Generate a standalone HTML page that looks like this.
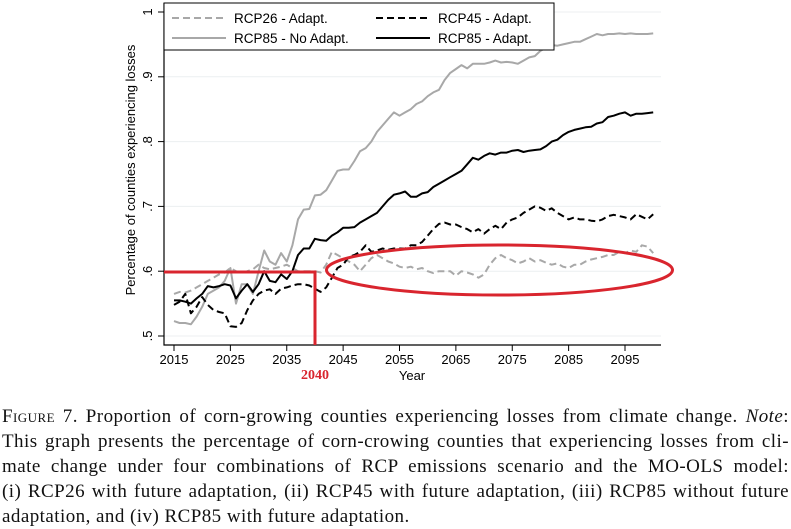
<!DOCTYPE html>
<html><head><meta charset="utf-8"><style>
body{margin:0;background:#fff;width:791px;height:529px;overflow:hidden;position:relative}
#cap{position:absolute;left:2px;top:404px;width:787px;font-family:"Liberation Serif",serif;font-size:19px;letter-spacing:0.45px;line-height:25px;color:#111}
#cap div{text-align:justify;text-align-last:justify;white-space:nowrap}
#cap div.last{text-align-last:left}
.sc{font-variant:small-caps}
</style></head><body>
<svg id="chart" width="791" height="400" style="position:absolute;left:0;top:0" font-family="Liberation Sans, sans-serif"></svg>
<div id="cap">
<div><span class="sc">Figure 7.</span> Proportion of corn-growing counties experiencing losses from climate change. <i>Note</i>:</div>
<div>This graph presents the percentage of corn-crowing counties that experiencing losses from cli-</div>
<div>mate change under four combinations of RCP emissions scenario and the MO-OLS model:</div>
<div>(i) RCP26 with future adaptation, (ii) RCP45 with future adaptation, (iii) RCP85 without future</div>
<div class="last">adaptation, and (iv) RCP85 with future adaptation.</div>
</div>
<script>
const startYear=2015;
const rcp26=[.565,.568,.567,.57,.575,.58,.585,.59,.595,.598,.605,.6,.598,.6,.603,.61,.605,.603,.605,.607,.61,.605,.6,.6,.6,.6,.598,.61,.63,.625,.62,.615,.61,.6,.61,.62,.625,.62,.615,.612,.607,.605,.607,.603,.605,.6,.597,.6,.6,.6,.593,.6,.598,.595,.59,.595,.61,.62,.625,.62,.617,.612,.615,.62,.615,.617,.613,.61,.612,.607,.605,.61,.61,.615,.618,.62,.622,.625,.625,.63,.628,.632,.63,.64,.638,.628];
const rcp45=[.548,.553,.565,.535,.545,.56,.548,.54,.537,.535,.515,.514,.52,.54,.555,.565,.57,.572,.565,.573,.575,.578,.58,.58,.578,.573,.568,.575,.59,.605,.61,.622,.625,.63,.64,.63,.632,.635,.633,.635,.635,.635,.64,.64,.645,.655,.665,.673,.675,.672,.672,.668,.665,.66,.665,.658,.665,.67,.665,.675,.68,.683,.69,.695,.7,.698,.693,.697,.69,.685,.68,.683,.68,.68,.678,.677,.68,.685,.687,.685,.683,.68,.688,.684,.68,.688];
const rcp85noAdapt=[.523,.52,.52,.518,.53,.545,.565,.57,.575,.585,.605,.55,.58,.58,.565,.6,.632,.615,.61,.628,.615,.64,.68,.695,.696,.717,.718,.725,.74,.755,.757,.757,.77,.785,.79,.8,.815,.825,.835,.845,.84,.845,.85,.858,.862,.87,.876,.88,.895,.906,.912,.918,.913,.92,.92,.92,.922,.925,.922,.923,.922,.92,.925,.93,.932,.94,.945,.949,.948,.95,.952,.954,.954,.958,.962,.966,.964,.966,.966,.967,.966,.967,.966,.966,.966,.967];
const rcp85Adapt=[.555,.555,.553,.55,.558,.565,.577,.575,.577,.58,.578,.558,.57,.58,.568,.58,.6,.585,.583,.595,.588,.6,.625,.635,.635,.65,.648,.647,.655,.66,.667,.667,.668,.675,.68,.685,.69,.7,.71,.718,.72,.723,.715,.715,.72,.722,.73,.735,.74,.745,.75,.755,.765,.775,.772,.778,.782,.78,.783,.783,.786,.787,.784,.786,.787,.788,.793,.8,.803,.81,.815,.818,.82,.822,.823,.828,.83,.838,.84,.843,.845,.84,.843,.843,.844,.845];
const xTicks=[2015,2025,2035,2045,2055,2065,2075,2085,2095];
const yTicks=[.5,.6,.7,.8,.9,1];
const yTickLabels=[".5",".6",".7",".8",".9","1"];
const NS="http://www.w3.org/2000/svg";
const svg=document.getElementById('chart');
const X=y=>174+(y-2015)*5.6375;
const Y=v=>336-(v-.5)*648;
function mk(t,a,p){const e=document.createElementNS(NS,t);for(const k in a)e.setAttribute(k,a[k]);(p||svg).appendChild(e);return e;}
yTicks.forEach((v,i)=>{
 const g=mk('line',{x1:164,x2:661,y1:Y(v),y2:Y(v),stroke:'#eceff1','stroke-width':1});
 
 
 const t=mk('line',{x1:158,x2:164,y1:Y(v),y2:Y(v),stroke:'#000'});
 
 
 const l=mk('text',{x:0,y:0,'font-size':13,'text-anchor':'middle',transform:`translate(152,${Y(v)}) rotate(-90)`});
 l.textContent=yTickLabels[i];
 
 
});
xTicks.forEach(v=>{
 const t=mk('line',{x1:X(v),x2:X(v),y1:345,y2:351,stroke:'#000'});
 
 
 const l=mk('text',{x:X(v),y:364,'font-size':13,'text-anchor':'middle'});
 l.textContent=v;
 
 
});
const ax=mk('path',{d:'M164,3V345H661',fill:'none',stroke:'#000','stroke-width':1.2});


const yt=mk('text',{x:0,y:0,'font-size':13,'text-anchor':'middle',transform:'translate(135,170) rotate(-90)'});
yt.textContent='Percentage of counties experiencing losses';


const xt=mk('text',{x:412,y:380,'font-size':13,'text-anchor':'middle'});
xt.textContent='Year';


function line(arr,stroke,dash,name){
 const d=arr.map((v,i)=>(i?'L':'M')+X(startYear+i).toFixed(1)+','+Y(v).toFixed(1)).join('');
 const p=mk('path',{d,fill:'none',stroke,'stroke-width':2,'stroke-dasharray':dash||'none','stroke-linejoin':'round'});
 
 
}
line(rcp26,'#a8a8a8','7,4','series-rcp26-adapt');
line(rcp85noAdapt,'#a8a8a8','','series-rcp85-no-adapt');
line(rcp45,'#000','7,4','series-rcp45-adapt');
line(rcp85Adapt,'#000','','series-rcp85-adapt');
const lg=mk('g',{});


mk('rect',{x:164,y:3,width:390,height:47,fill:'#fff',stroke:'#000','stroke-width':1},lg);
[[172,18,'#a8a8a8','7,4','RCP26 - Adapt.'],[172,38,'#a8a8a8','','RCP85 - No Adapt.'],[376,18,'#000','7,4','RCP45 - Adapt.'],[376,38,'#000','','RCP85 - Adapt.']].forEach(r=>{
 const e=mk('g',{},lg);
 
 
 mk('line',{x1:r[0],x2:r[0]+54,y1:r[1],y2:r[1],stroke:r[2],'stroke-width':2,'stroke-dasharray':r[3]||'none'},e);
 const t=mk('text',{x:r[0]+62,y:r[1]+5,'font-size':13.5},e);t.textContent=r[4];
});
const an=mk('path',{d:'M164,272H315V345',fill:'none',stroke:'#d9252e','stroke-width':3});


const el=mk('ellipse',{cx:499.5,cy:270,rx:173,ry:25,fill:'none',stroke:'#d9252e','stroke-width':3});


const t40=mk('text',{x:315,y:379,'font-size':14,'font-weight':'bold','text-anchor':'middle',fill:'#d9252e','font-family':'Liberation Serif, serif'});
t40.textContent='2040';


</script>
</body></html>
